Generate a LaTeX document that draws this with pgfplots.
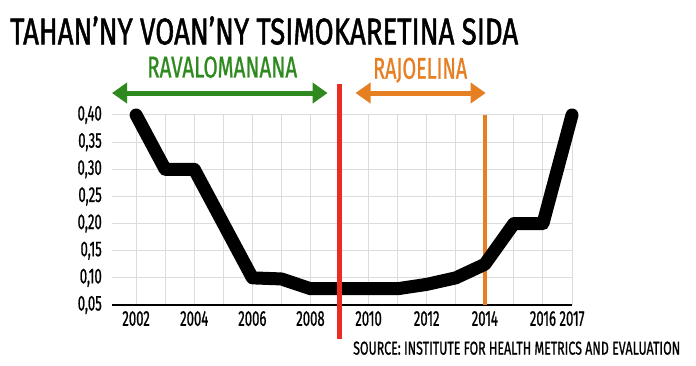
\documentclass[border=0pt]{standalone}
\usepackage{fontspec}
\usepackage{graphicx}
\usepackage{pgfplots}
\pgfplotsset{compat=1.18}
\usetikzlibrary{arrows.meta}
\setmainfont{Fira Sans}
\newfontfamily\condfont{Fira Sans}[FakeStretch=0.61,FakeBold=0.8]
\newfontfamily\headfont{Fira Sans}[FakeBold=1.6]
\newfontfamily\subfont{Fira Sans}[FakeBold=1.2]
\definecolor{cgreen}{HTML}{2E8A1E}
\definecolor{corange}{HTML}{E67E22}
\definecolor{cred}{HTML}{EE2A24}
\definecolor{cgrid}{HTML}{DCDCDC}
\begin{document}
\begin{tikzpicture}[x=1bp,y=1bp]
\path[use as bounding box] (-112,-60) rectangle (584,305);
\begin{axis}[
  scale only axis, width=460bp, height=190bp,
  anchor=south west, at={(0,0)},
  xmin=2001.17, xmax=2017, ymin=0.05, ymax=0.40,
  clip=false,
  axis x line*=bottom, axis y line*=left,
  x axis line style={black, line width=1.6bp, -},
  y axis line style={draw=none, -},
  major tick length=0,
  xtick={2002,2003,...,2017},
  xticklabels={2002,,2004,,2006,,2008,,2010,,2012,,2014,,2016,2017},
  ytick={0.05,0.10,...,0.41},
  grid=major, major grid style={cgrid, line width=1bp},
  /pgf/number format/assume math mode=true,
  yticklabel={\pgfmathprintnumber[fixed, fixed zerofill, precision=2, use comma]{\tick}},
  tick label style={font=\condfont\fontsize{21.5bp}{24bp}\selectfont, inner sep=0pt},
  xticklabel style={yshift=-6bp},
  yticklabel style={xshift=-10bp},
]
\addplot[cgreen, line width=5bp, {Triangle[length=15bp,width=20bp]}-{Triangle[length=15bp,width=20bp]}] coordinates {(2001.17,0.4405) (2008.59,0.4405)};
\addplot[corange, line width=5bp, {Triangle[length=15bp,width=20bp]}-{Triangle[length=15bp,width=20bp]}] coordinates {(2009.55,0.4405) (2014.03,0.4405)};
\addplot[corange, line width=4bp] coordinates {(2014,0.40) (2014,0.05)};
\addplot[black, line width=13bp, line join=round, line cap=round] coordinates {
(2002,0.40) (2003,0.30) (2004,0.30) (2005,0.20) (2006,0.10) (2007,0.098)
(2008,0.08) (2009,0.08) (2010,0.08) (2011,0.08) (2012,0.088) (2013,0.10)
(2014,0.125) (2015,0.20) (2016,0.20) (2017,0.40)};
\addplot[cred, line width=4.3bp] coordinates {(2009,0.4571) (2009,-0.0126)};
\end{axis}
\node[anchor=south west, inner sep=0] at (-102,260) {\resizebox{508bp}{28bp}{\headfont TAHAN’NY VOAN’NY TSIMOKARETINA SIDA}};
\node[anchor=south west, inner sep=0] at (35,227) {\resizebox{150bp}{21bp}{\subfont\color{cgreen}RAVALOMANANA}};
\node[anchor=south west, inner sep=0] at (261,222) {\resizebox{94bp}{21bp}{\subfont\color{corange}RAJOELINA}};
\node[anchor=south west, inner sep=0] at (241,-50) {\resizebox{327bp}{13bp}{\subfont SOURCE: INSTITUTE FOR HEALTH METRICS AND EVALUATION}};
\end{tikzpicture}
\end{document}
